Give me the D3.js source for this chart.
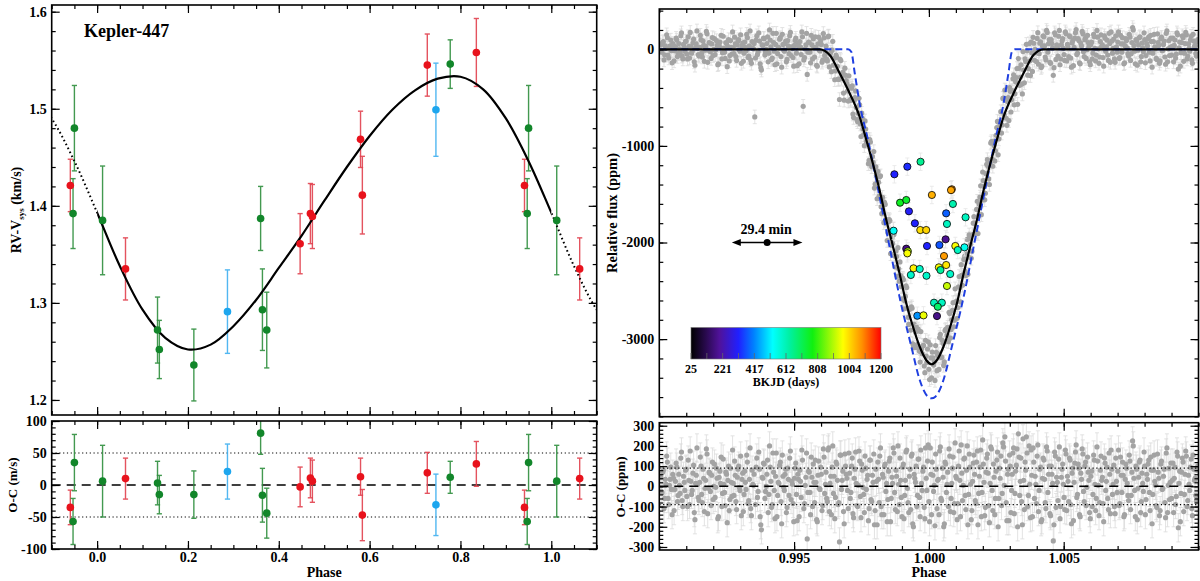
<!DOCTYPE html>
<html>
<head>
<meta charset="utf-8">
<script src="https://cdn.jsdelivr.net/npm/d3@7"></script>
<style>
  body { margin: 0; background: #fff; }
  svg { display: block; }
  text { font-family: "Liberation Serif", serif; font-weight: bold; fill: #000; }
  .tick text { font: bold 14px "Liberation Serif", serif; fill: #000; }
  .tick line { stroke: #000; stroke-width: 1.2; }
</style>
</head>
<body>
<svg id="chart" width="1200" height="581"></svg>
<script>
// ---- RV data (left), one entry per measurement, phase folded into [0,1) ----
var rvPhase = [0.941, 0.950, 0.947, 0.012, 0.0625, 0.133, 0.137, 0.213, 0.287, 0.360, 0.364,
  0.3735, 0.447, 0.4696, 0.474, 0.580, 0.584, 0.727, 0.746, 0.7775, 0.835]
var rvValue = [1.421, 1.480, 1.392, 1.385, 1.335, 1.272, 1.252, 1.236, 1.291, 1.387, 1.293,
  1.272, 1.361, 1.392, 1.389, 1.4685, 1.411, 1.545, 1.499, 1.546, 1.558]
var rvErr = [27, 44, 36, 56, 32, 34, 30, 37, 43, 33, 42, 39, 31, 31, 33, 29, 40, 32, 48, 25, 35] // m/s
var rvOC = [-35, 35, -57, 6, 10, 3, -15, -15, 21, 81, -16, -44, -3, 11, 6, 13, -47, 19, -31, 12, 33] // m/s
var rvInst = ['r', 'g', 'g', 'g', 'r', 'g', 'g', 'g', 'b', 'g', 'g', 'g', 'r', 'r', 'r', 'r', 'r', 'r', 'b', 'g', 'r']

// orbital fit
var rvModelPhase = [0, 0.05, 0.10, 0.15, 0.20, 0.25, 0.30, 0.35, 0.40, 0.45, 0.50,
  0.55, 0.60, 0.65, 0.70, 0.75, 0.80, 0.85, 0.90, 0.95, 1.0]
var rvModelValue = [1.393, 1.338, 1.293, 1.264, 1.252, 1.257, 1.276, 1.303, 1.336, 1.369, 1.405,
  1.440, 1.472, 1.499, 1.519, 1.531, 1.533, 1.520, 1.490, 1.446, 1.393]

// ---- transit (right) ----
var fitPhase = [0.9900, 0.99595, 0.99632, 0.99669, 0.99706, 0.99743, 0.99768, 0.99792, 0.99817,
  0.99842, 0.99867, 0.99891, 0.99916, 0.99941, 0.99966, 0.99990, 1.00010, 1.00030, 1.00054,
  1.00079, 1.00104, 1.00129, 1.00153, 1.00178, 1.00203, 1.00228, 1.00252, 1.00277, 1.00314,
  1.00351, 1.00388, 1.00425, 1.0100]
var fitFlux = [0, 0, -59, -248, -455, -698, -939, -1180, -1457, -1767, -2043, -2319, -2629,
  -2872, -3079, -3216, -3260, -3216, -3079, -2872, -2629, -2319, -2043, -1767, -1457, -1180,
  -939, -698, -455, -248, -59, 0, 0]
var sharpPhase = [0.9900, 0.99700, 0.99712, 0.99725, 0.99743, 0.99774, 0.99817, 0.99854, 0.99891,
  0.99935, 0.99966, 0.99996, 1.00010, 1.00024, 1.00054, 1.00085, 1.00129, 1.00166, 1.00203,
  1.00246, 1.00277, 1.00295, 1.00308, 1.00320, 1.0100]
var sharpFlux = [0, 0, -25, -248, -559, -939, -1526, -2043, -2561, -3079, -3423, -3596, -3613,
  -3596, -3423, -3079, -2561, -2043, -1526, -939, -559, -248, -25, 0, 0]

// O-C of the folded Kepler photometry (ppm), in phase order; two interleaved halves
var lcStart = 0.99005, lcEnd = 1.00995, lcErr = 70
var lcResid = [
  45, -30, 80, -60, 10, 120, -90, 35, -15, 60, -120, 25, 95, -45, 5, 140, -70, 50, -20, 85,
  -100, 30, 175, -40, 65, -130, 15, 190, -55, 20, 100, -80, 40, -10, 185, -135, 70, -25, 55, -65,
  110, -5, 40, -150, 75, 145, -35, 10, -95, 60, 30, -120, 90, -50, 15, 125, -75, 45, 100, -20,
  -145, 65, -40, 20, 155, -85, 35, -110, 80, 5, -700, 95, -55, 170, -150, -215, 40, 110, -25, 60,
  -130, 200, 25, -90, 70, -160, 165, -45, 15, 120, -185, 50, -20, 85, -105, 35, 140, -65, 10, -175,
  90, -40, 60, -150, 25, 180, -590, -85, 45, -260, 75, -30, 145, -100, 20, 130, -165, 55, -10, 95,
  -120, 185, -35, 70, -75, 190, 15, -140, 200, 50, -55, 110, -90, -275, 155, 30, -125, 160, 60, -20,
  165, -60, 100, -135, 40, 170, -95, 5, 125, -155, 80, -40, 150, -15, 55, -110, 130, -75, 20, -190,
  85, -190, 35, 150, -100, 60, -140, 110, 15, -65, 125, -175, 45, 190, -30, 80, -125, 10, 140, -55,
  95, -160, 30, 180, -80, 50, -115, 160, -200, 40, 100, -45, 135, -150, 15, 75, -105, 190, -20, 205,
  -175, 60, 120, -25, -195, 85, 30, -140, 195, -70, 45, -185, 110, 10, -100, 150, -60, 90, -130, 215,
  40, -85, 175, -150, 65, 5, 140, -115, 200, -40, 95, -165, 25, 155, -70, 120, -190, 50, 180, -30,
  110, -145, 70, 160, -95, 15, 185, -120, 45, -60, 130, -200, 90, 150, -35, 195, 245, -80, 60, -170,
  100, -20, 165, -135, 75, 185, 260, -45, 140, -190, 30, 120, 245, -100, 200, -155, 55, 190, -60, 10,
  150, -125, 85, -175, 40, 130, -80, 195, -30, 100, -145, 60, -270, 170, -105, 20, 135, -160, 45, 110,
  -55, 180, -120, 25, 140, -90, 65, -170, 115, 205, -40, 90, -150, 35, 160, -75, 120, -5, 70, -130,
  50, -100, 155, 10, -60, 125, -145, 80, 30, -85, 140, -20, 95, -115, 60, 180, -40, 105, -135, 25,
  75, -95, 145, -30, 55, -140, 110, 15, -70, 125, -45, 225, 40, -150, 85, -10, 120, -130, 65, -25,
  100, -65, 35, 130, -120, 80, -40, 155, 5, -105, 70, -145, 110, -15, 50, -80, 165, -130, 90, 20,
  -60, 115, 40, -90, 170, -205, 75, -35, 140, -125, 60, 150, -70, 10, 95, -110, 155, 30, -45, 80
]
var lcResidMid = [
  -25, 70, -110, 35, 150, -60, 5, 95, -140, 40, -15, 115, -75, 60, -35, 170, -100, 20, 80, -50,
  130, -90, 25, -20, 105, -165, 55, 10, -70, 145, -40, 85, -125, 30, 160, -10, 65, -95, 120, 0,
  -55, 90, -160, 45, 15, -100, 135, -30, 70, -180, 100, -65, 20, 180, -45, 55, -115, 85, -5, 150,
  35, -125, 75, -15, 120, -70, 190, -145, 10, 60, -90, 140, -25, 85, -190, 45, 115, -60, 0, 130,
  -40, 95, -105, 165, -20, 50, -150, 20, 105, -75, 155, -5, 60, -130, 90, -45, 175, 25, -85, 40,
  115, -170, 35, 80, -55, 130, -110, 5, 165, -30, 70, -140, 45, 110, -80, 20, -175, 125, -15, 60,
  -95, 145, 10, -60, 180, -125, 50, 95, -35, -160, 120, 30, -80, 155, -15, 75, -185, 100, 40, -110,
  65, -30, 140, -155, 85, 15, -100, 175, -50, 110, -5, -130, 90, 35, -170, 130, -65, 55, 160, -120,
  25, 120, -80, 190, -140, 45, 100, -25, -175, 75, 140, -60, 15, 165, -115, 50, 200, -90, 30, -150,
  110, -45, 170, -10, -130, 85, 150, -185, 60, 20, -100, 135, -55, 180, -20, 95, -160, 40, 125, -75,
  190, -140, 55, 5, 160, -110, 35, 175, -60, 90, -200, 120, -30, 70, 185, -125, 15, 145, -85, 50,
  -165, 100, 30, 205, -70, 135, -45, 80, -190, 160, 10, -120, 115, 60, -85, 175, -35, 95, -150, 230,
  20, -105, 140, 65, -180, 195, -20, 110, -140, 75, 170, -60, 40, -95, 215, 5, 125, -170, 85, 155,
  -130, 60, 190, -35, 105, -200, 145, 25, -75, 235, -115, 80, 165, -45, 10, 180, -150, 120, 50, -85,
  205, -20, 95, -165, 140, 35, -110, 175, 60, -135, 100, 15, -190, 150, 45, -70, 195, -100, 85, 10,
  -115, 160, 50, -75, 130, -185, 90, 20, 170, -55, 110, -140, 65, 185, -25, 100, -95, 145, 30, -160,
  75, -40, 130, -120, 195, 5, -80, 150, 45, -175, 115, 25, -60, 165, -135, 85, 10, -100, 140, -30,
  180, -85, 55, 120, -150, 35, 90, -45, 155, -115, 70, 200, -20, 100, -165, 45, 130, -75, 15, 170,
  -140, 60, 110, -30, 145, -185, 80, 25, -95, 160, 40, -120, 125, -10, 85, -155, 190, 5, -65, 115,
  30, -130, 95, -50, 150, 15, -175, 70, 120, -40, 175, -100, 55, -20, 135, -145, 85, 40, -70, 100
]

// single transits: mid-phase, depth and epoch
var ttvPhase = [0.99969, 0.99920, 0.99872, 1.00085, 1.00082, 1.00011, 0.99893, 0.99916, 1.00089,
  0.99926, 1.00064, 1.00136, 0.99948, 1.00067, 0.99869, 0.99968, 0.99990, 1.00062, 0.99993,
  1.00039, 1.00098, 1.00132, 1.00107, 0.99916, 0.99922, 0.99920, 1.00056, 0.99943, 0.99966,
  1.00037, 1.00064, 1.00043, 0.99933, 0.99991, 1.00079, 1.00067, 1.00019, 1.00048, 1.00033,
  0.99957, 0.99980, 1.00030]
var ttvFlux = [-1164, -1215, -1294, -1449, -1458, -1508, -1588, -1560, -1601, -1677, -1698, -1739,
  -1801, -1808, -1878, -1871, -1871, -1967, -2036, -2026, -2036, -2050, -2078, -2064, -2091,
  -2112, -2140, -2267, -2274, -2257, -2233, -2285, -2336, -2344, -2326, -2450, -2623, -2623,
  -2665, -2758, -2754, -2761]
var ttvBkjd = [650, 330, 320, 1080, 1060, 1050, 760, 750, 620, 310, 380, 600, 320, 600, 540, 1000,
  1010, 190, 320, 370, 960, 550, 600, 180, 900, 960, 1070, 980, 590, 960, 990, 640, 590, 590,
  590, 920, 610, 600, 690, 430, 950, 180]

var bkjdTicks = [25, 221, 417, 612, 808, 1004, 1200]
var cmapStops = [0, 0.08, 0.15, 0.25, 0.33, 0.43, 0.52, 0.64, 0.80, 0.90, 1]
var cmapColors = ['#000000', '#2a0a50', '#50129a', '#2020ff', '#0080ff', '#00ffff', '#00f0a0',
  '#10f010', '#ffff00', '#ff9000', '#ff0000']

var period = 7.79430     // days, for the 29.4 min cadence bar
var cadence = 29.4       // minutes

var instColor = { r: '#e8121c', g: '#12862a', b: '#1da6ee' }
var instErrColor = { r: '#e2414e', g: '#2f8f3e', b: '#3fb0f0' }

// ---- layout ----
var svg = d3.select('#chart')
var defs = svg.append('defs')

var LT = { l: 51.7, r: 596.7, t: 5, b: 415 }
  , LB = { l: 51.7, r: 596.7, t: 421, b: 549 }
  , RT = { l: 659.3, r: 1198.5, t: 9, b: 416.7 }
  , RB = { l: 659.3, r: 1198.5, t: 422.7, b: 550 }

var xL = d3.scaleLinear().domain([-0.1, 1.1]).range([LT.l, LT.r])
  , yLT = d3.scaleLinear().domain([1.1845, 1.6069]).range([LT.b, LT.t])
  , yLB = d3.scaleLinear().domain([-100, 100]).range([LB.b, LB.t])
  , xR = d3.scaleLinear().domain([0.990, 1.010]).range([RT.l, RT.r])
  , yRT = d3.scaleLinear().domain([-3803, 417]).range([RT.b, RT.t])
  , yRB = d3.scaleLinear().domain([-315, 315]).range([RB.b, RB.t])

var fmt1 = function(d) { return d.toFixed(1) }
  , fmt3 = function(d) { return d.toFixed(3) }
  , fmtInt = function(d) { return String(d) }
  , steps = function(a, b, s) { return d3.range(Math.round(a / s), Math.round(b / s) + 1).map(function(i) { return +(i * s).toFixed(6) }) }

function clipBox(id, box) {
  defs.append('clipPath').attr('id', id).append('rect')
    .attr('x', box.l).attr('y', box.t).attr('width', box.r - box.l).attr('height', box.b - box.t)
  return 'url(#' + id + ')'
}

// ticks point inwards on all four sides, labels only left and bottom
function frame(box, x, y, o) {
  var g = svg.append('g')
  var sides = [
    [d3.axisBottom, 'translate(0,' + box.b + ')', x, o.xMajor, o.xMinor, o.xFmt],
    [d3.axisTop, 'translate(0,' + box.t + ')', x, o.xMajor, o.xMinor, null],
    [d3.axisLeft, 'translate(' + box.l + ',0)', y, o.yMajor, o.yMinor, o.yFmt],
    [d3.axisRight, 'translate(' + box.r + ',0)', y, o.yMajor, o.yMinor, null]
  ]
  sides.forEach(function(s) {
    g.append('g').attr('transform', s[1])
      .call(s[0](s[2]).tickValues(s[4]).tickSize(-4).tickFormat(''))
    g.append('g').attr('transform', s[1])
      .call(s[0](s[2]).tickValues(s[3]).tickSize(-8).tickPadding(s[0] === d3.axisBottom ? 3 : 5)
        .tickFormat(s[5] || ''))
  })
  g.selectAll('.domain').remove()
  g.append('rect').attr('x', box.l).attr('y', box.t)
    .attr('width', box.r - box.l).attr('height', box.b - box.t)
    .attr('fill', 'none').attr('stroke', '#000').attr('stroke-width', 1.6)
}

function yTitle(x, y, parts, size) {
  var t = svg.append('text').attr('transform', 'translate(' + x + ',' + y + ') rotate(-90)')
    .attr('text-anchor', 'middle').attr('font-size', size)
  parts.forEach(function(p) {
    t.append('tspan').text(p.text).attr('font-size', p.size || null).attr('dy', p.dy || 0)
  })
}

function errBars(g, data, x, y, yv, ev, color, cap, width) {
  var eb = g.append('g').selectAll('g').data(data).enter().append('g')
    .attr('stroke', color).attr('stroke-width', width || 1.4).attr('opacity', 0.9)
  eb.append('line').attr('x1', function(d) { return x(d.phase) }).attr('x2', function(d) { return x(d.phase) })
    .attr('y1', function(d) { return y(yv(d) - ev(d)) }).attr('y2', function(d) { return y(yv(d) + ev(d)) })
  ;[-1, 1].forEach(function(s) {
    eb.append('line').attr('x1', function(d) { return x(d.phase) - cap }).attr('x2', function(d) { return x(d.phase) + cap })
      .attr('y1', function(d) { return y(yv(d) + s * ev(d)) }).attr('y2', function(d) { return y(yv(d) + s * ev(d)) })
  })
}

// ================= left: radial velocities =================
var rvPoints = []
rvPhase.forEach(function(p, i) {
  [-1, 0, 1].forEach(function(k) {
    var ph = p + k
    if (ph >= xL.domain()[0] && ph <= xL.domain()[1])
      rvPoints.push({ phase: ph, rv: rvValue[i], err: rvErr[i], oc: rvOC[i], inst: rvInst[i] })
  })
})

// model repeated over the neighbouring periods, solid inside [0,1], dotted outside
var ext = []
;[-1, 0, 1].forEach(function(k) {
  rvModelPhase.forEach(function(p, i) {
    var ph = p + k
    if (ph < -0.16 || ph > 1.16) return
    if (ext.length && Math.abs(ext[ext.length - 1][0] - ph) < 1e-9) return
    ext.push([ph, rvModelValue[i]])
  })
})
var inside = clipBox('lt-in', { l: xL(0), r: xL(1), t: LT.t, b: LT.b })
var outsideClip = defs.append('clipPath').attr('id', 'lt-out')
outsideClip.append('rect').attr('x', LT.l).attr('y', LT.t).attr('width', xL(0) - LT.l).attr('height', LT.b - LT.t)
outsideClip.append('rect').attr('x', xL(1)).attr('y', LT.t).attr('width', LT.r - xL(1)).attr('height', LT.b - LT.t)

var lt = svg.append('g').attr('clip-path', clipBox('lt', LT))

errBars(lt, rvPoints, xL, yLT, function(d) { return d.rv }, function(d) { return d.err / 1000 },
  function(d) { return instErrColor[d.inst] }, 2.6)

var rvLine = d3.line().x(function(d) { return xL(d[0]) }).y(function(d) { return yLT(d[1]) }).curve(d3.curveCatmullRom)
lt.append('path').attr('d', rvLine(ext)).attr('clip-path', inside)
  .attr('fill', 'none').attr('stroke', '#000').attr('stroke-width', 2.2)
lt.append('path').attr('d', rvLine(ext)).attr('clip-path', 'url(#lt-out)')
  .attr('fill', 'none').attr('stroke', '#000').attr('stroke-width', 2).attr('stroke-dasharray', '1.6,2.8')

lt.append('g').selectAll('circle').data(rvPoints).enter().append('circle')
  .attr('cx', function(d) { return xL(d.phase) }).attr('cy', function(d) { return yLT(d.rv) })
  .attr('r', 3.8).attr('fill', function(d) { return instColor[d.inst] })

frame(LT, xL, yLT, {
  xMajor: steps(0, 1, 0.2), xMinor: steps(-0.1, 1.1, 0.05),
  yMajor: steps(1.2, 1.6, 0.1), yMinor: steps(1.2, 1.6, 0.02), yFmt: fmt1
})
svg.append('text').attr('x', 84).attr('y', 37).attr('font-size', 18).text('Kepler-447')
yTitle(21, 210, [{ text: 'RV-V' }, { text: 'sys', size: 9, dy: 3 }, { text: ' (km/s)', dy: -3 }], 14)

// ---- left residuals ----
var lb = svg.append('g').attr('clip-path', clipBox('lb', LB))
;[-50, 50].forEach(function(v) {
  lb.append('line').attr('x1', LB.l).attr('x2', LB.r).attr('y1', yLB(v)).attr('y2', yLB(v))
    .attr('stroke', '#000').attr('stroke-width', 1.2).attr('stroke-dasharray', '1.2,2.6')
})
lb.append('line').attr('x1', LB.l).attr('x2', LB.r).attr('y1', yLB(0)).attr('y2', yLB(0))
  .attr('stroke', '#000').attr('stroke-width', 1.5).attr('stroke-dasharray', '9,6')
errBars(lb, rvPoints, xL, yLB, function(d) { return d.oc }, function(d) { return d.err },
  function(d) { return instErrColor[d.inst] }, 2.6)
lb.append('g').selectAll('circle').data(rvPoints).enter().append('circle')
  .attr('cx', function(d) { return xL(d.phase) }).attr('cy', function(d) { return yLB(d.oc) })
  .attr('r', 3.8).attr('fill', function(d) { return instColor[d.inst] })

frame(LB, xL, yLB, {
  xMajor: steps(0, 1, 0.2), xMinor: steps(-0.1, 1.1, 0.05), xFmt: fmt1,
  yMajor: steps(-100, 100, 50), yMinor: steps(-100, 100, 10), yFmt: fmtInt
})
yTitle(17, 485, [{ text: 'O-C (m/s)' }], 13)
svg.append('text').attr('x', (LB.l + LB.r) / 2).attr('y', 577).attr('text-anchor', 'middle')
  .attr('font-size', 14).text('Phase')

// ================= right: transit =================
var modelAt = d3.scaleLinear().domain(fitPhase).range(fitFlux)
var lcStep = (lcEnd - lcStart) / (lcResid.length - 1)
var lcPoints = []
lcResid.forEach(function(r, i) { lcPoints.push({ phase: lcStart + i * lcStep, resid: r }) })
lcResidMid.forEach(function(r, i) { lcPoints.push({ phase: lcStart + (i + 0.5) * lcStep, resid: r }) })
lcPoints.forEach(function(d) { d.flux = modelAt(d.phase) + d.resid })

var rt = svg.append('g').attr('clip-path', clipBox('rt', RT))
errBars(rt, lcPoints, xR, yRT, function(d) { return d.flux }, function() { return lcErr }, '#d9d9d9', 2, 0.8)
rt.append('g').selectAll('circle').data(lcPoints).enter().append('circle')
  .attr('cx', function(d) { return xR(d.phase) }).attr('cy', function(d) { return yRT(d.flux) })
  .attr('r', 2.6).attr('fill', '#a3a3a3')

var fitLine = d3.line().x(function(d) { return xR(d[0]) }).y(function(d) { return yRT(d[1]) }).curve(d3.curveMonotoneX)
rt.append('path').attr('d', fitLine(d3.zip(sharpPhase, sharpFlux)))
  .attr('fill', 'none').attr('stroke', '#1f3fe0').attr('stroke-width', 2).attr('stroke-dasharray', '7,4')
rt.append('path').attr('d', fitLine(d3.zip(fitPhase, fitFlux)))
  .attr('fill', 'none').attr('stroke', '#000').attr('stroke-width', 2.2)

var bkjdColor = d3.scaleLinear()
  .domain(cmapStops.map(function(f) { return bkjdTicks[0] + f * (bkjdTicks[6] - bkjdTicks[0]) }))
  .range(cmapColors)

var ttv = ttvPhase.map(function(p, i) { return { phase: p, flux: ttvFlux[i], bkjd: ttvBkjd[i] } })
errBars(rt, ttv, xR, yRT, function(d) { return d.flux }, function() { return 90 }, '#e4e4e4', 2, 0.8)
rt.append('g').selectAll('circle').data(ttv).enter().append('circle')
  .attr('cx', function(d) { return xR(d.phase) }).attr('cy', function(d) { return yRT(d.flux) })
  .attr('r', 3.6).attr('fill', function(d) { return bkjdColor(d.bkjd) })
  .attr('stroke', '#000').attr('stroke-width', 0.8)

// cadence bar
var cadPhase = cadence / (period * 1440), cadMid = 0.994, cadY = yRT(-2000)
var ax0 = xR(cadMid - cadPhase / 2), ax1 = xR(cadMid + cadPhase / 2)
rt.append('line').attr('x1', ax0 + 6).attr('x2', ax1 - 6).attr('y1', cadY).attr('y2', cadY)
  .attr('stroke', '#000').attr('stroke-width', 1.5)
rt.append('path').attr('d', 'M' + ax0 + ',' + cadY + 'l9,-3.5v7z').attr('fill', '#000')
rt.append('path').attr('d', 'M' + ax1 + ',' + cadY + 'l-9,-3.5v7z').attr('fill', '#000')
rt.append('circle').attr('cx', xR(cadMid)).attr('cy', cadY).attr('r', 3.5).attr('fill', '#000')
svg.append('text').attr('x', xR(cadMid) - 1).attr('y', 233.5).attr('text-anchor', 'middle')
  .attr('font-size', 14).text(cadence + ' min')

// colour bar
var cb = { l: 691, r: 881, t: 327.5, b: 359 }
var grad = defs.append('linearGradient').attr('id', 'bkjd')
cmapStops.forEach(function(f, i) {
  grad.append('stop').attr('offset', f).attr('stop-color', cmapColors[i])
})
svg.append('rect').attr('x', cb.l).attr('y', cb.t).attr('width', cb.r - cb.l).attr('height', cb.b - cb.t)
  .attr('fill', 'url(#bkjd)').attr('stroke', '#777').attr('stroke-width', 0.6)
var cbX = d3.scaleLinear().domain([bkjdTicks[0], bkjdTicks[6]]).range([cb.l, cb.r])
var cbMinor = d3.range(13).map(function(i) { return bkjdTicks[0] + i * (bkjdTicks[6] - bkjdTicks[0]) / 12 })
svg.append('g').selectAll('line').data(cbMinor).enter().append('line')
  .attr('x1', cbX).attr('x2', cbX).attr('y1', cb.b).attr('y2', cb.b - 6)
  .attr('stroke', '#666').attr('stroke-width', 0.8)
svg.append('g').selectAll('text').data(bkjdTicks).enter().append('text')
  .attr('x', cbX).attr('y', 373).attr('text-anchor', 'middle').attr('font-size', 12)
  .attr('font-weight', 'normal').text(fmtInt)
svg.append('text').attr('x', (cb.l + cb.r) / 2).attr('y', 385.5).attr('text-anchor', 'middle')
  .attr('font-size', 12).attr('font-weight', 'normal').text('BKJD (days)')

frame(RT, xR, yRT, {
  xMajor: steps(0.995, 1.005, 0.005), xMinor: steps(0.990, 1.010, 0.001),
  yMajor: steps(-3000, 0, 1000), yMinor: steps(-3800, 400, 200), yFmt: fmtInt
})
yTitle(617, 213, [{ text: 'Relative flux (ppm)' }], 14.5)

// ---- right residuals ----
var rb = svg.append('g').attr('clip-path', clipBox('rb', RB))
errBars(rb, lcPoints, xR, yRB, function(d) { return d.resid }, function() { return lcErr }, '#d9d9d9', 2, 0.8)
rb.append('g').selectAll('circle').data(lcPoints).enter().append('circle')
  .attr('cx', function(d) { return xR(d.phase) }).attr('cy', function(d) { return yRB(d.resid) })
  .attr('r', 2.6).attr('fill', '#a3a3a3')
;[-90, 90].forEach(function(v) {
  rb.append('line').attr('x1', RB.l).attr('x2', RB.r).attr('y1', yRB(v)).attr('y2', yRB(v))
    .attr('stroke', '#000').attr('stroke-width', 1.2).attr('stroke-dasharray', '1.2,2.6')
})
rb.append('line').attr('x1', RB.l).attr('x2', RB.r).attr('y1', yRB(0)).attr('y2', yRB(0))
  .attr('stroke', '#000').attr('stroke-width', 1.5).attr('stroke-dasharray', '9,6')

frame(RB, xR, yRB, {
  xMajor: steps(0.995, 1.005, 0.005), xMinor: steps(0.990, 1.010, 0.001), xFmt: fmt3,
  yMajor: steps(-300, 300, 100), yMinor: steps(-300, 300, 20), yFmt: fmtInt
})
yTitle(625, 487, [{ text: 'O-C (ppm)' }], 13)
svg.append('text').attr('x', (RB.l + RB.r) / 2).attr('y', 577).attr('text-anchor', 'middle')
  .attr('font-size', 14).text('Phase')
</script>
</body>
</html>
